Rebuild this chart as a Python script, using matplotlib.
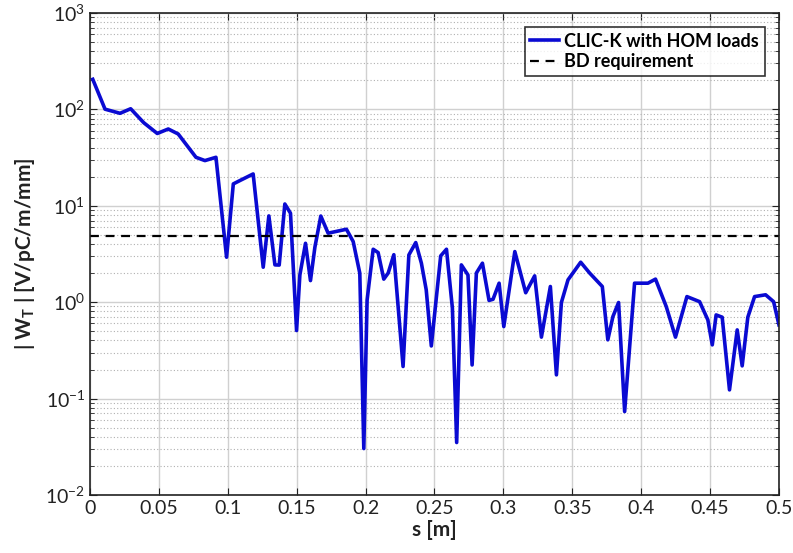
import numpy as np
import matplotlib
matplotlib.use('Agg')
import matplotlib.pyplot as plt
from matplotlib.ticker import LogLocator, NullFormatter, FixedLocator

# wakefield |W_T| along s
s = [0.002, 0.0109, 0.0218, 0.0295, 0.039, 0.0488, 0.0568, 0.064, 0.0769, 0.0834,
     0.0914, 0.0991, 0.104, 0.1088, 0.1184, 0.1257, 0.1298, 0.1342, 0.1373, 0.1414,
     0.1455, 0.1499, 0.1523, 0.1564, 0.16, 0.1632, 0.1675, 0.1728, 0.1861, 0.191,
     0.1958, 0.1987, 0.2011, 0.2055, 0.2091, 0.2132, 0.2164, 0.2205, 0.2272, 0.2314,
     0.2364, 0.2405, 0.244, 0.2477, 0.2545, 0.2587, 0.263, 0.2661, 0.2695, 0.2743,
     0.2773, 0.2804, 0.2848, 0.2896, 0.2925, 0.2969, 0.3003, 0.3083, 0.3162, 0.3227,
     0.3276, 0.3341, 0.3385, 0.3421, 0.3469, 0.3561, 0.3626, 0.3718, 0.3758, 0.3795,
     0.3836, 0.388, 0.3952, 0.4049, 0.4104, 0.4182, 0.4249, 0.4332, 0.4424, 0.4484,
     0.4516, 0.4544, 0.4588, 0.4641, 0.4697, 0.4733, 0.4774, 0.4823, 0.4903, 0.4961,
     0.5]
wt = [204, 100, 90.6, 101, 72.4, 56, 62.3, 55.3, 31.7, 29.3,
      31.7, 2.92, 16.8, 18.2, 21.3, 2.30, 7.82, 2.43, 2.42, 10.4,
      8.34, 0.507, 1.91, 4.07, 1.67, 3.7, 7.8, 5.18, 5.69, 4.24,
      1.99, 0.0303, 1.05, 3.53, 3.26, 1.73, 2.0, 3.1, 0.215, 3.08,
      4.14, 2.53, 1.34, 0.351, 3.01, 3.53, 0.865, 0.035, 2.43, 1.91,
      0.223, 2.0, 2.53, 1.04, 1.07, 1.57, 0.557, 3.34, 1.25, 1.87,
      0.433, 1.45, 0.176, 0.99, 1.70, 2.59, 2.0, 1.45, 0.406, 0.708,
      0.99, 0.0733, 1.57, 1.57, 1.73, 0.898, 0.433, 1.14, 1.01, 0.653,
      0.36, 0.736, 0.697, 0.123, 0.515, 0.218, 0.697, 1.14, 1.19, 1.01,
      0.58]
bd_limit = 4.8

x_ticks = [0, 0.05, 0.1, 0.15, 0.2, 0.25, 0.3, 0.35, 0.4, 0.45, 0.5]
x_labels = ['0', '0.05', '0.1', '0.15', '0.2', '0.25', '0.3', '0.35', '0.4', '0.45', '0.5']

plt.rcParams['font.family'] = ['Lato', 'DejaVu Sans']
plt.rcParams['mathtext.default'] = 'regular'

fig = plt.figure(figsize=(7.93, 5.53), dpi=100)
ax = fig.add_axes([0.1135, 0.1049, 0.8688, 0.8721])

ax.semilogy(s, wt, color='#0a0ad2', linewidth=2.6, label='CLIC-K with HOM loads')
ax.axhline(bd_limit, color='black', linestyle=(0, (4, 3)), linewidth=1.6, label='BD requirement')

ax.set_xlim(0, 0.5)
ax.set_ylim(1e-2, 1e3)
ax.xaxis.set_major_locator(FixedLocator(x_ticks))
ax.set_xticklabels(x_labels)
ax.yaxis.set_major_locator(LogLocator(base=10, numticks=10))
ax.yaxis.set_minor_locator(LogLocator(base=10, subs=np.arange(2, 10), numticks=10))
ax.yaxis.set_minor_formatter(NullFormatter())

ax.grid(True, which='major', color='#d0d0d0', linewidth=1.0)
ax.grid(True, which='minor', axis='y', color='#b0b0b0', linestyle=(0, (1, 2)), linewidth=0.8)
ax.set_axisbelow(True)

ax.tick_params(which='both', direction='in', top=True, right=True, labelsize=14, colors='#222222')
ax.tick_params(which='major', length=5)
ax.tick_params(which='minor', length=3)
for sp in ax.spines.values():
    sp.set_color('#222222')
    sp.set_linewidth(1.2)

ax.set_xlabel('s [m]', fontsize=15, fontweight='bold', color='#222222', labelpad=2)
ax.set_ylabel('| W$_T$ | [V/pC/m/mm]', fontsize=15, fontweight='bold', color='#222222', labelpad=6)

leg = ax.legend(loc='upper right', fontsize=13, frameon=True, fancybox=False,
                edgecolor='black', handlelength=1.6, handletextpad=0.3,
                borderpad=0.3, labelspacing=0.2, borderaxespad=0.8)
leg.get_frame().set_linewidth(1.2)
for t in leg.get_texts():
    t.set_fontweight('bold')

fig.savefig('out.png', dpi=100)
